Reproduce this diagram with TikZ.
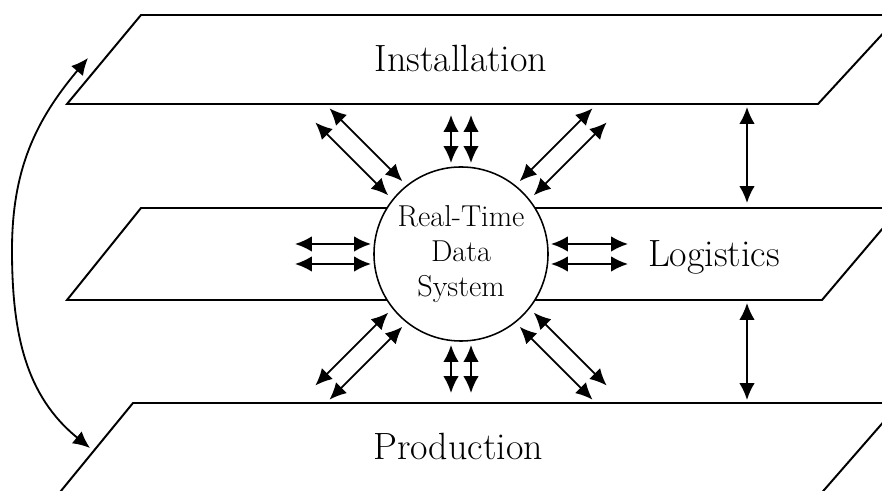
\documentclass[tikz,border=0pt]{standalone}
\usepackage{amsmath}
\usepackage{tikz}
\usetikzlibrary{arrows.meta, calc}

\begin{document}
\begin{tikzpicture}[x=0.025cm, y=0.025cm,
  plane/.style={line width=1.4pt, line join=miter},
  dbl/.style={{Latex[length=12pt,width=11pt]}-{Latex[length=12pt,width=11pt]}, line width=1.3pt},
  lbl/.style={font=\fontsize{27}{32}\selectfont, anchor=base}]

 \useasboundingbox (0,0) rectangle (882,491);
 \clip (0,0) rectangle (882,491);

 % The three planes
 \draw[plane] (67,387) -- (141,476) -- (900,476) -- (818,387) -- cycle;
 \draw[plane] (67,191) -- (141,283) -- (900,283) -- (822,191) -- cycle;
 \draw[plane] (56,-6) -- (133,88) -- (900,88) -- (818,-6) -- cycle;

 % Labels
 \node[lbl] (inst) at (461,419) {Installation};
 \node[lbl] (logi) at (714,224) {Logistics};
 \node[lbl] (prod) at (458,31) {Production};

 % Central data system
 \node[circle, draw, fill=white, line width=1.1pt, minimum size=4.35cm, inner sep=0pt,
       align=center, font=\fontsize{21.5}{25}\selectfont] (rtds) at (461,237) {Real-Time\\Data\\System};

 % Paired arrows around the circle
 \foreach \ang/\rin/\rout in {0/90/167, 45/93/196, 90/91/139, 135/93/196,
                              180/90/166, 225/93/196, 270/91/139, 315/93/196}
   \foreach \off in {-10,10}
     \draw[dbl] ($(rtds.center)+(\ang:\rin)+(\ang+90:\off)$) -- ($(rtds.center)+(\ang:\rout)+(\ang+90:\off)$);

 % Arrows between the planes on the right
 \coordinate (r1) at (747,384);
 \coordinate (r2) at (747,288);
 \coordinate (r3) at (747,188);
 \coordinate (r4) at (747,91);
 \draw[dbl] (r1) -- (r2);
 \draw[dbl] (r3) -- (r4);

 % Long arrow from installation to production
 \coordinate (c-top) at (88,433);
 \coordinate (c-mid) at (12,241);
 \coordinate (c-bot) at (90,43);
 \draw[dbl] (c-top) to[out=230,in=90] (c-mid) to[out=270,in=141] (c-bot);

\end{tikzpicture}
\end{document}
